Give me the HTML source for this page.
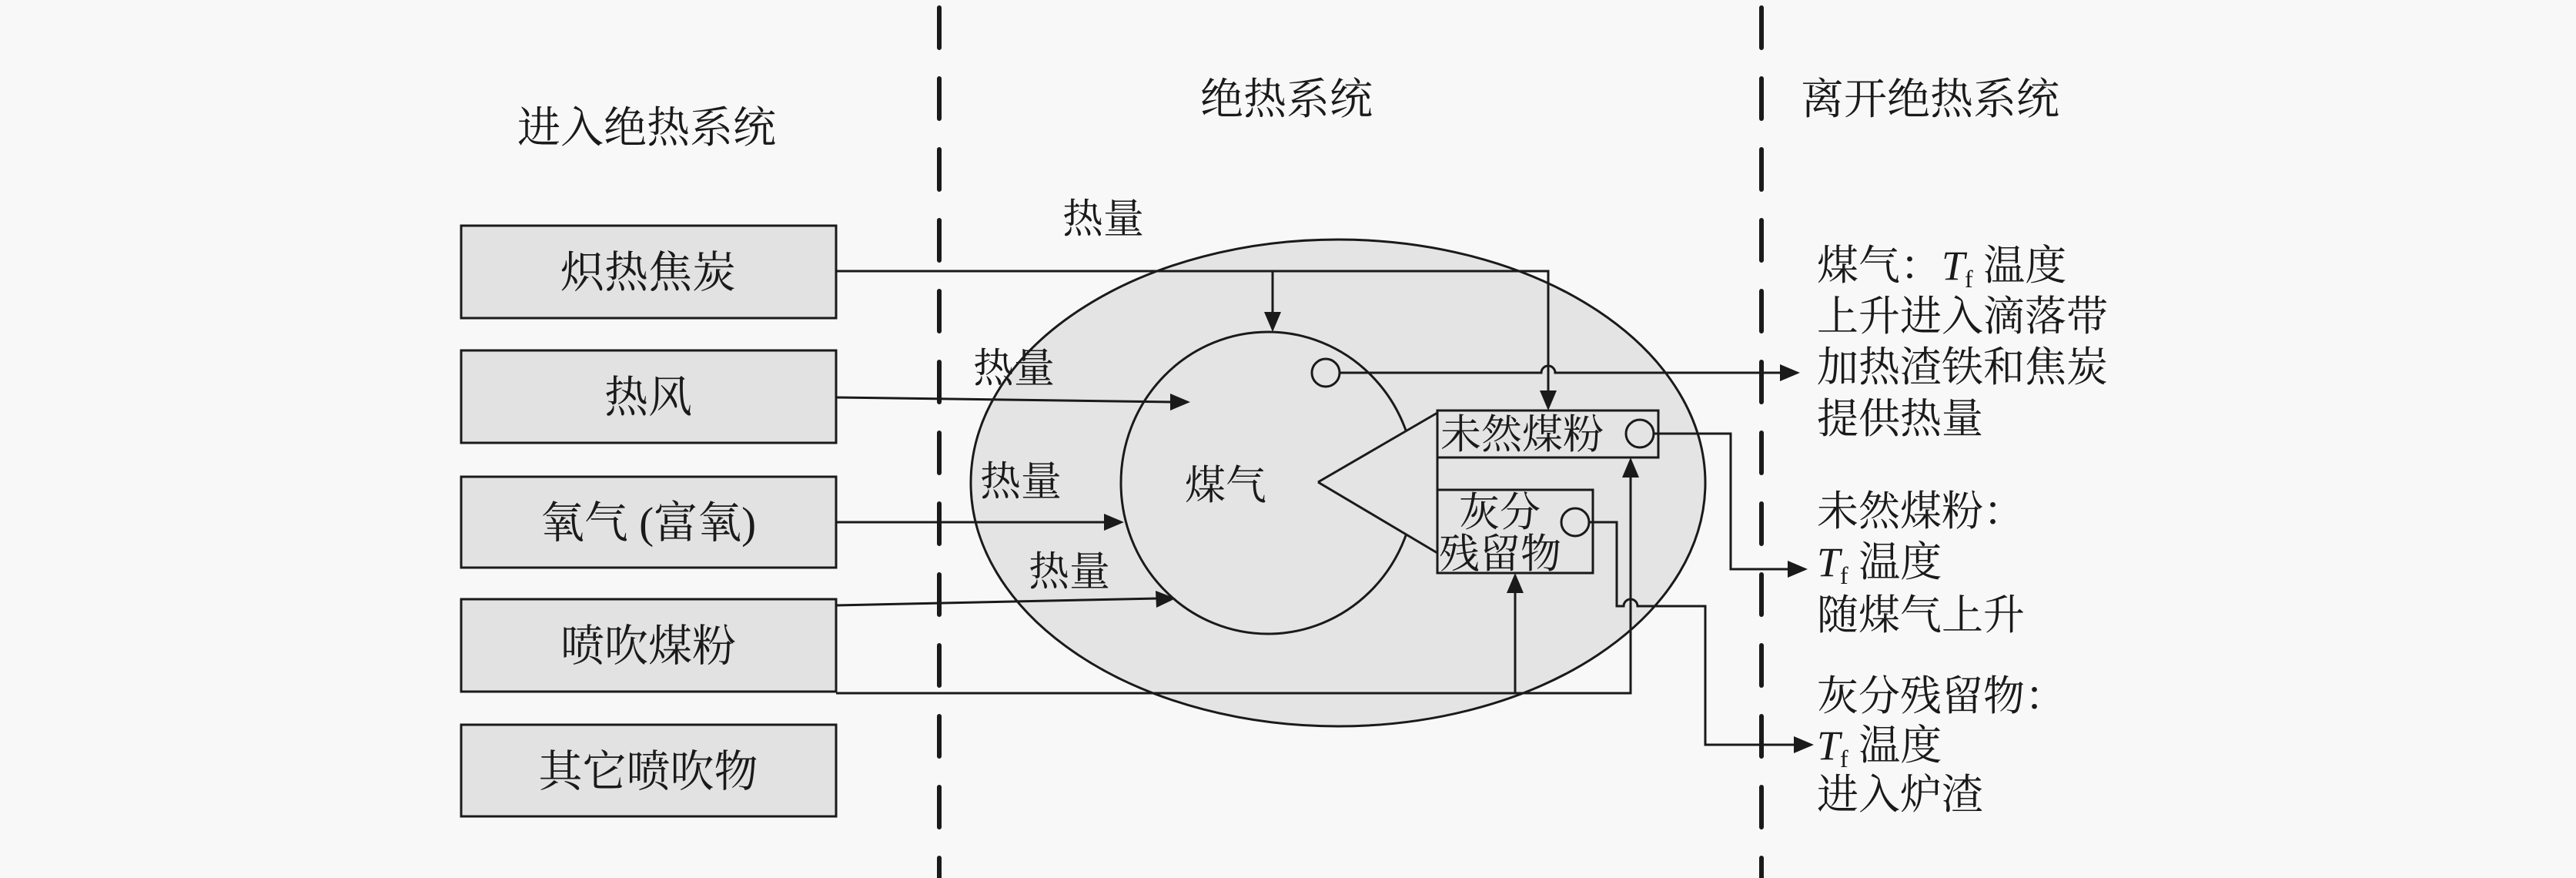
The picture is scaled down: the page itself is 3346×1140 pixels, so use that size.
<!DOCTYPE html>
<html><head><meta charset="utf-8"><style>
html,body{margin:0;padding:0;background:#f8f8f8;}
svg{display:block}
text{font-family:"Liberation Serif","Noto Serif CJK SC","Noto Sans CJK SC",serif;fill:#1a1a1a;}
</style></head><body>
<svg width="3346" height="1140" viewBox="0 0 3346 1140" xmlns="http://www.w3.org/2000/svg">
<rect width="3346" height="1140" fill="#f8f8f8"/>
<!-- dashed dividers -->
<line x1="1220" y1="10" x2="1220" y2="1140" stroke="#1a1a1a" stroke-width="6" stroke-dasharray="52 40" stroke-linecap="round"/>
<line x1="2288" y1="10" x2="2288" y2="1140" stroke="#1a1a1a" stroke-width="6" stroke-dasharray="52 40" stroke-linecap="round"/>
<!-- titles -->
<g font-size="56" text-anchor="middle">
<text x="840" y="185">进入绝热系统</text>
<text x="1671" y="148">绝热系统</text>
<text x="2507" y="148">离开绝热系统</text>
</g>
<!-- left boxes -->
<g fill="#e2e2e2" stroke="#1a1a1a" stroke-width="3">
<rect x="599" y="293" width="487" height="120"/>
<rect x="599" y="455" width="487" height="120"/>
<rect x="599" y="619" width="487" height="118"/>
<rect x="599" y="778" width="487" height="120"/>
<rect x="599" y="941" width="487" height="119"/>
</g>
<g font-size="57" text-anchor="middle">
<text x="842" y="373">炽热焦炭</text>
<text x="842" y="535">热风</text>
<text x="842" y="698">氧气 (富氧)</text>
<text x="842" y="858">喷吹煤粉</text>
<text x="842" y="1021">其它喷吹物</text>
</g>
<!-- outer ellipse -->
<ellipse cx="1738" cy="627" rx="477" ry="316" fill="#e4e4e4" stroke="#1a1a1a" stroke-width="3"/>
<!-- inner ellipse (pacman) -->
<ellipse cx="1647" cy="627" rx="191" ry="196" fill="#e4e4e4" stroke="#1a1a1a" stroke-width="3"/>
<polygon points="1712,626 1866,537 1866,718" fill="#e4e4e4" stroke="none"/>
<line x1="1712" y1="626" x2="1867" y2="536" stroke="#1a1a1a" stroke-width="3"/>
<line x1="1712" y1="626" x2="1867" y2="718" stroke="#1a1a1a" stroke-width="3"/>
<!-- boxes inside -->
<rect x="1867" y="533" width="287" height="61" fill="#e4e4e4" stroke="#1a1a1a" stroke-width="3"/>
<rect x="1867" y="636" width="202" height="108" fill="#e4e4e4" stroke="#1a1a1a" stroke-width="3"/>
<line x1="1867" y1="594" x2="1867" y2="636" stroke="#1a1a1a" stroke-width="3"/>
<g font-size="53">
<text x="1871" y="582">未然煤粉</text>
<text x="1895" y="683">灰分</text>
<text x="1869" y="737">残留物</text>
<text x="1592" y="648" text-anchor="middle">煤气</text>
<text x="1433" y="302" text-anchor="middle">热量</text>
<text x="1317" y="496" text-anchor="middle">热量</text>
<text x="1326" y="643" text-anchor="middle">热量</text>
<text x="1389" y="760" text-anchor="middle">热量</text>
</g>
<!-- small circles -->
<g fill="none" stroke="#1a1a1a" stroke-width="3">
<circle cx="1722" cy="484" r="18"/>
<circle cx="2130" cy="563" r="18"/>
<circle cx="2046" cy="678" r="18"/>
</g>
<!-- connectors -->
<g fill="none" stroke="#1a1a1a" stroke-width="3">
<polyline points="1086,352 2011,352 2011,510"/>
<line x1="1653" y1="352" x2="1653" y2="410"/>
<path d="M1740,484 L2002,484 A9,9 0 0 1 2020,484 L2318,484"/>
<line x1="1086" y1="516" x2="1524" y2="522"/>
<line x1="1086" y1="678" x2="1438" y2="678"/>
<line x1="1086" y1="786" x2="1504" y2="777"/>
<polyline points="1086,900 2118,900 2118,617"/>
<line x1="1968" y1="900" x2="1968" y2="767"/>
<polyline points="2148,563 2248,563 2248,739 2328,739"/>
<path d="M2064,678 L2100,678 L2100,787 L2109,787 A9,9 0 0 1 2127,787 L2215,787 L2215,967 L2335,967"/>
</g>
<!-- arrowheads -->
<g fill="#1a1a1a">
<polygon points="1653,431 1642,405 1664,405"/>
<polygon points="2011,533 2000,507 2022,507"/>
<polygon points="2338,484 2312,473 2312,495"/>
<polygon points="1546,522 1520,511 1520,533"/>
<polygon points="1460,678 1434,667 1434,689"/>
<polygon points="1527,777 1501,767 1502,789"/>
<polygon points="2118,594 2107,620 2129,620"/>
<polygon points="1968,744 1957,770 1979,770"/>
<polygon points="2348,739 2322,728 2322,750"/>
<polygon points="2356,967 2330,956 2330,978"/>
</g>
<!-- right texts -->
<g font-size="54">
<text x="2360" y="363">煤气：<tspan font-style="italic">T</tspan><tspan font-size="32" dy="10">f</tspan><tspan dy="-10"> 温度</tspan></text>
<text x="2360" y="429">上升进入滴落带</text>
<text x="2360" y="495">加热渣铁和焦炭</text>
<text x="2360" y="562">提供热量</text>
<text x="2360" y="682">未然煤粉：</text>
<text x="2360" y="748"><tspan font-style="italic">T</tspan><tspan font-size="32" dy="10">f</tspan><tspan dy="-10"> 温度</tspan></text>
<text x="2360" y="817">随煤气上升</text>
<text x="2360" y="922">灰分残留物：</text>
<text x="2360" y="986"><tspan font-style="italic">T</tspan><tspan font-size="32" dy="10">f</tspan><tspan dy="-10"> 温度</tspan></text>
<text x="2360" y="1050">进入炉渣</text>
</g>
</svg>
</body></html>
